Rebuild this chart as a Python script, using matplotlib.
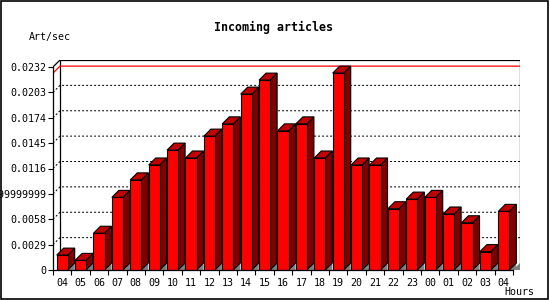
import matplotlib
matplotlib.use("Agg")
import matplotlib.pyplot as plt
from matplotlib.patches import Polygon, Rectangle

# données
hours = ["04", "05", "06", "07", "08", "09", "10", "11", "12", "13", "14", "15", "16",
         "17", "18", "19", "20", "21", "22", "23", "00", "01", "02", "03", "04"]
rates = [0.0017, 0.0011, 0.0042, 0.0083, 0.0103, 0.0120, 0.0137, 0.0128, 0.0153,
         0.0167, 0.0201, 0.0217, 0.0159, 0.0167, 0.0128, 0.0225, 0.0120, 0.0120,
         0.0070, 0.0081, 0.0083, 0.0064, 0.0054, 0.0021, 0.0067]
ytick_vals = [0, 0.0029, 0.0058, 0.0087, 0.0116, 0.0145, 0.0174, 0.0203, 0.0232]
ytick_labels = ["0", "0.0029", "0.0058", "0.00869999999999999", "0.0116", "0.0145",
                "0.0174", "0.0203", "0.0232"]

YMAX = 0.0232
DX = 0.38            # profondeur 3D (unités de catégorie)
DY = YMAX * 7 / 203  # profondeur 3D (unités de valeur)
W = 0.6

plt.rcParams["font.family"] = "DejaVu Sans Mono"
fig = plt.figure(figsize=(5.5, 3), dpi=100)
fig.patch.set_facecolor("white")
ax = fig.add_axes([53 / 550, 30 / 300, 467 / 550, 210 / 300])
n = len(hours)
ax.set_xlim(-0.5, n - 0.5 + DX)
ax.set_ylim(0, YMAX + DY)
ax.patch.set_alpha(0)

# plan du fond (sans bord bas) et grille
x0, x1 = -0.5 + DX, n - 0.5 + DX
ax.plot([x0, x0, x1, x1], [DY, YMAX + DY, YMAX + DY, DY], color="black", lw=0.9, zorder=1)
ax.plot([-0.5, x0], [YMAX, YMAX + DY], color="black", lw=0.9, zorder=1)
for v in ytick_vals[1:-1]:
    ax.plot([-0.5, x0, x1], [v, v + DY, v + DY], color="black",
            lw=0.72, linestyle=(0, (2, 2)), zorder=1)
vmax = max(rates)
ax.plot([-0.5, x0, x1], [vmax, vmax + DY, vmax + DY], color="red", lw=0.9, zorder=1)

# barres 3D
x = list(range(n))
ax.bar(x, rates, width=W, color="#ff0000", edgecolor="black", linewidth=0.8, zorder=3)
for xi, v in zip(x, rates):
    l, r = xi - W / 2, xi + W / 2
    ax.add_patch(Polygon([(r, 0), (r + DX, DY), (r + DX, 0)], closed=True,
                         facecolor="#808080", edgecolor="none", zorder=2))
    ax.add_patch(Polygon([(r, 0), (r, v), (r + DX, v + DY), (r + DX, DY)], closed=True,
                         facecolor="#800000", edgecolor="black", lw=0.8, zorder=2))
    ax.add_patch(Polygon([(l, v), (r, v), (r + DX, v + DY), (l + DX, v + DY)], closed=True,
                         facecolor="#c00000", edgecolor="black", lw=0.8, zorder=2))
ax.add_patch(Polygon([(n - 0.5, 0), (x1, DY), (x1, 0)], closed=True,
                     facecolor="#808080", edgecolor="none", zorder=1))

# axes
for s in ("top", "right"):
    ax.spines[s].set_visible(False)
ax.spines["left"].set_bounds(0, YMAX)
ax.spines["bottom"].set_bounds(-0.5, n - 0.5)
for s in ("left", "bottom"):
    ax.spines[s].set_linewidth(0.9)
    ax.spines[s].set_zorder(4)
ax.set_yticks(ytick_vals, ytick_labels)
ax.tick_params(axis="y", length=3.6, width=0.8, pad=1.5, labelsize=7.2)
ax.set_xticks([i - 0.5 for i in range(n + 1)], [""] * (n + 1))
ax.set_xticks(x, hours, minor=True)
ax.tick_params(axis="x", which="major", length=3.6, width=0.8)
ax.tick_params(axis="x", which="minor", length=0, pad=6, labelsize=7.2)

fig.text(274 / 550, 1 - 27 / 300, "Incoming articles", ha="center", va="center",
         fontsize=8.4, fontweight="bold")
fig.text(50 / 550, 1 - 37 / 300, "Art/sec", ha="center", va="center", fontsize=7.2)
fig.text(519 / 550, 1 - 292 / 300, "Hours", ha="center", va="center", fontsize=7.2)
fig.patches.append(Rectangle((0.001, 0.004), 0.996, 0.994, transform=fig.transFigure,
                             fill=False, edgecolor="black", lw=1.2))

fig.savefig("out.png", dpi=100)
